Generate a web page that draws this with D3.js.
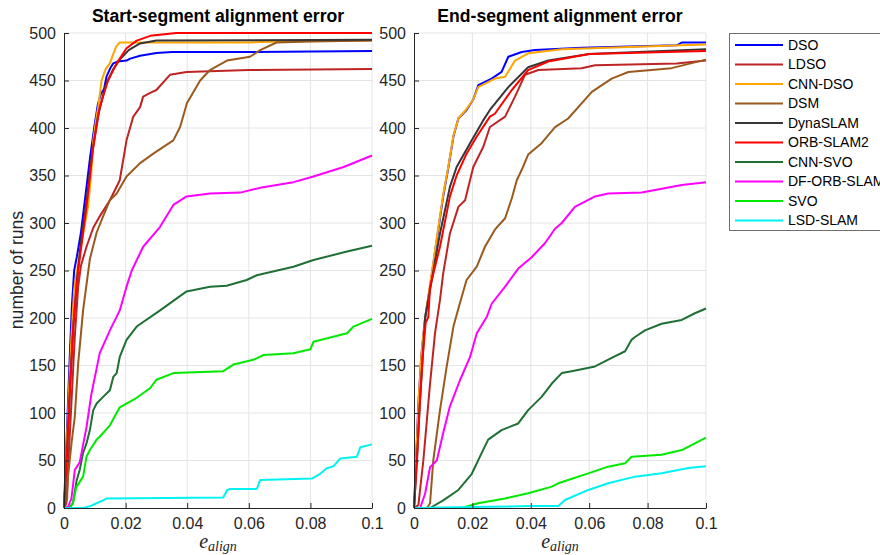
<!DOCTYPE html>
<html>
<head>
<meta charset="utf-8">
<script src="https://cdn.jsdelivr.net/npm/d3@7/dist/d3.min.js"></script>
<style>
  html, body { margin: 0; padding: 0; background: #fff; overflow: hidden; }
  svg { display: block; }
</style>
</head>
<body>
<svg id="chart" width="880" height="555"></svg>
<script>
// Methods in legend order and their line colours
const methods = ["DSO", "LDSO", "CNN-DSO", "DSM", "DynaSLAM", "ORB-SLAM2", "CNN-SVO", "DF-ORB-SLAM", "SVO", "LSD-SLAM"];
const colors  = ["#0000ff", "#be2424", "#ffa500", "#9a5a1e", "#363636", "#ff0000", "#1f7034", "#ff00ff", "#00ea00", "#00f2f2"];

const xTicks = [0, 0.02, 0.04, 0.06, 0.08, 0.1];
const xTickLabels = ["0", "0.02", "0.04", "0.06", "0.08", "0.1"];
const yTicks = [0, 50, 100, 150, 200, 250, 300, 350, 400, 450, 500];
const panelTitles = ["Start-segment alignment error", "End-segment alignment error"];

// Cumulative number of runs vs. alignment error: [e_align, runs]
// Start-segment
const startDSO = [[0,0],[0.0007,60],[0.0014,120],[0.002,170],[0.0026,215],[0.0033,250],[0.0042,265],[0.0055,290],[0.007,330],[0.0085,370],[0.0098,400],[0.011,425],[0.012,436],[0.013,441],[0.0138,454],[0.0152,464],[0.016,468],[0.0175,470],[0.0203,471],[0.0215,473],[0.0247,476],[0.03,479],[0.035,480],[0.06,480],[0.1,481]];
const startLDSO = [[0,0],[0.0008,5],[0.0016,60],[0.0024,110],[0.0035,180],[0.0046,233],[0.0055,255],[0.0073,275],[0.0095,295],[0.0116,307],[0.0149,324],[0.0181,345],[0.0203,387],[0.0225,412],[0.0247,422],[0.0257,433],[0.028,437],[0.030,440],[0.0344,456],[0.0398,459],[0.06,461],[0.1,462]];
const startCNNDSO = [[0,0],[0.0008,60],[0.0016,120],[0.0024,180],[0.0033,230],[0.0045,255],[0.006,285],[0.0078,317],[0.0088,350],[0.0095,387],[0.0105,410],[0.0111,422],[0.0122,450],[0.0135,462],[0.0149,468],[0.016,478],[0.017,486],[0.0181,490],[0.025,490],[0.05,490],[0.06,490],[0.07,491],[0.1,492]];
const startDSM = [[0,0],[0.001,10],[0.0013,33],[0.0025,70],[0.0035,96],[0.0046,152],[0.0062,208],[0.0075,240],[0.0084,262],[0.0106,290],[0.0127,307],[0.0149,324],[0.0171,331],[0.0203,349],[0.0247,363],[0.029,373],[0.0355,387],[0.0377,401],[0.0399,426],[0.0442,450],[0.0474,461],[0.0529,471],[0.0604,475],[0.0637,482],[0.069,490],[0.08,491],[0.1,492]];
const startDynaSLAM = [[0,0],[0.001,60],[0.002,130],[0.003,190],[0.0042,240],[0.0055,280],[0.007,315],[0.009,370],[0.011,412],[0.0135,445],[0.016,462],[0.0181,472],[0.021,482],[0.0247,489],[0.03,492],[0.1,493]];
const startORBSLAM2 = [[0,0],[0.001,60],[0.002,130],[0.003,190],[0.004,230],[0.0046,250],[0.006,285],[0.0073,317],[0.0095,380],[0.0116,422],[0.0143,450],[0.0171,468],[0.0203,484],[0.0236,492],[0.028,497],[0.0364,500],[0.1,500]];
const startCNNSVO = [[0,0],[0.0019,1],[0.0029,5],[0.0041,29],[0.0051,40],[0.0062,58],[0.0073,68],[0.0084,82],[0.0095,103],[0.0106,110],[0.0127,117],[0.0149,124],[0.016,138],[0.0171,142],[0.0181,159],[0.0203,177],[0.0236,191],[0.0312,208],[0.0398,228],[0.0474,233],[0.0528,234],[0.0593,240],[0.0626,245],[0.0745,254],[0.081,261],[0.0919,270],[0.1,276]];
const startDFORBSLAM = [[0,0],[0.0013,1],[0.0024,10],[0.003,26],[0.0035,40],[0.0051,48],[0.0073,85],[0.0089,120],[0.0116,163],[0.0149,187],[0.0181,208],[0.0203,233],[0.022,250],[0.0257,275],[0.0312,296],[0.0355,319],[0.0398,328],[0.0474,331],[0.0572,332],[0.0637,337],[0.0745,343],[0.081,349],[0.0908,359],[0.1,371]];
const startSVO = [[0,0],[0.0019,0],[0.0029,5],[0.004,22],[0.0062,33],[0.0073,54],[0.0084,61],[0.0106,72],[0.0116,75],[0.0149,87],[0.0181,106],[0.0236,116],[0.0279,126],[0.03,135],[0.0355,142],[0.0517,144],[0.055,151],[0.0615,156],[0.0647,161],[0.0745,163],[0.08,167],[0.081,175],[0.0919,184],[0.094,191],[0.1,199]];
const startLSDSLAM = [[0,0],[0.0062,0],[0.0085,2],[0.0106,5],[0.0127,8],[0.0138,10],[0.0517,11],[0.053,19],[0.054,20],[0.0626,20],[0.0637,29.5],[0.0805,31],[0.0832,36],[0.0854,42],[0.0875,44],[0.0897,52],[0.0951,54],[0.0962,64],[0.1,67]];

// End-segment
const endDSO = [[0,0],[0.0007,50],[0.0015,110],[0.0025,160],[0.0038,200],[0.0043,210],[0.0055,233],[0.0078,282],[0.01,328],[0.0118,359],[0.0135,391],[0.0152,410],[0.018,419],[0.0203,430],[0.022,445],[0.0266,452],[0.030,459],[0.0323,475],[0.0369,480],[0.0414,482],[0.0574,484.5],[0.09,487],[0.0917,490],[0.1,490]];
const endLDSO = [[0,0],[0.0015,3],[0.0032,50],[0.0055,131],[0.0072,184],[0.0089,219],[0.01,247],[0.0123,289],[0.0152,317],[0.0175,324],[0.0203,359],[0.0237,380],[0.026,401],[0.0312,412],[0.0346,433],[0.038,456],[0.0426,461],[0.0574,463],[0.062,466],[0.09,468],[0.1,471]];
const endCNNDSO = [[0,0],[0.0008,55],[0.0016,115],[0.0026,165],[0.0038,200],[0.0055,235],[0.0078,284],[0.01,330],[0.0118,360],[0.0135,392],[0.0152,410],[0.018,420],[0.0203,430],[0.022,443],[0.0277,452],[0.0312,454],[0.0346,471],[0.0391,478.6],[0.0506,482.8],[0.0917,487],[0.1,488]];
const endDSM = [[0,0],[0.0045,0],[0.0055,5],[0.0066,50],[0.0089,103],[0.0112,149],[0.0135,191],[0.0152,210],[0.018,240],[0.0215,254],[0.0243,275],[0.0277,293],[0.0312,305],[0.0335,326],[0.0352,345],[0.0369,356],[0.0391,372],[0.0437,384],[0.0483,401],[0.0528,410],[0.0609,438],[0.0677,452],[0.0734,459],[0.0882,463],[0.1,472]];
const endDynaSLAM = [[0,0],[0.001,50],[0.002,110],[0.003,160],[0.0038,200],[0.0049,219],[0.0089,289],[0.0123,338],[0.0146,359],[0.0192,384],[0.0237,408],[0.026,419],[0.0323,443],[0.0391,464],[0.046,471],[0.06,478],[0.1,483]];
const endORBSLAM2 = [[0,0],[0.001,50],[0.002,110],[0.003,160],[0.004,195],[0.0049,201],[0.0055,233],[0.0089,275],[0.0123,328],[0.0146,350],[0.018,373],[0.0215,391],[0.026,412],[0.0277,415],[0.0335,440],[0.0391,461],[0.046,470],[0.06,478],[0.1,481]];
const endCNNSVO = [[0,0],[0.0055,0],[0.01,8],[0.0152,19],[0.0198,36],[0.0232,58],[0.0254,72],[0.03,82],[0.0357,89],[0.0391,103],[0.0437,117],[0.0472,131],[0.0506,142],[0.054,144],[0.062,149],[0.0677,158],[0.0723,165],[0.0745,177],[0.0757,180],[0.0791,187],[0.0848,194],[0.0917,198],[0.0962,205],[0.1,210]];
const endDFORBSLAM = [[0,0],[0.0021,0],[0.0038,15],[0.0055,43],[0.0078,50],[0.01,79],[0.0123,107],[0.0158,135],[0.0192,159],[0.0215,184],[0.0249,201],[0.0266,215],[0.0312,233],[0.0357,252],[0.0403,264],[0.0449,279],[0.0483,294],[0.0506,300],[0.0551,317],[0.062,328],[0.0665,331],[0.078,332],[0.0917,340],[0.1,343]];
const endSVO = [[0,0],[0.0163,0],[0.022,5],[0.0312,10],[0.0391,15.5],[0.0472,22.5],[0.0494,26],[0.0528,29.5],[0.0597,36.5],[0.0665,43.5],[0.0723,47],[0.0745,54],[0.0848,56],[0.0917,61],[0.0962,68],[0.1,74]];
const endLSDSLAM = [[0,0],[0.02,1],[0.04,2],[0.0494,2],[0.0505,5],[0.0517,8.4],[0.0597,19],[0.0665,26],[0.0757,33],[0.0848,36.5],[0.094,42],[0.1,44]];

const startSeries = [startDSO, startLDSO, startCNNDSO, startDSM, startDynaSLAM, startORBSLAM2, startCNNSVO, startDFORBSLAM, startSVO, startLSDSLAM];
const endSeries = [endDSO, endLDSO, endCNNDSO, endDSM, endDynaSLAM, endORBSLAM2, endCNNSVO, endDFORBSLAM, endSVO, endLSDSLAM];

const svg = d3.select("#chart");
const axisColor = "#262626";
const gridColor = "#e4e4e4";
const font = "'Liberation Sans', Arial, Helvetica, sans-serif";

const panels = [
  { title: panelTitles[0], series: startSeries, left: 64, right: 372 },
  { title: panelTitles[1], series: endSeries, left: 414, right: 706 }
];
const plotTop = 33, plotBottom = 508;

panels.forEach(p => {
  const x = d3.scaleLinear().domain([0, 0.1]).range([p.left, p.right]);
  const y = d3.scaleLinear().domain([0, 500]).range([plotBottom, plotTop]);
  const g = svg.append("g");

  // grid
  g.append("g").selectAll("line.v").data(xTicks.slice(1)).join("line")
    .attr("x1", d => x(d)).attr("x2", d => x(d))
    .attr("y1", plotBottom).attr("y2", plotTop)
    .attr("stroke", gridColor).attr("stroke-width", 1);
  g.append("g").selectAll("line.h").data(yTicks.slice(1)).join("line")
    .attr("x1", p.left).attr("x2", p.right)
    .attr("y1", d => y(d)).attr("y2", d => y(d))
    .attr("stroke", gridColor).attr("stroke-width", 1);

  // curves
  const line = d3.line().x(d => x(d[0])).y(d => y(d[1]));
  g.append("g").selectAll("path").data(p.series).join("path")
    .attr("d", line)
    .attr("fill", "none")
    .attr("stroke", (d, i) => colors[i])
    .attr("stroke-width", 2)
    .attr("stroke-linejoin", "round");

  // axes with inward ticks
  const xAxis = d3.axisBottom(x).tickValues(xTicks)
    .tickFormat((d, i) => xTickLabels[i]).tickSizeInner(-5).tickSizeOuter(0).tickPadding(10);
  const yAxis = d3.axisLeft(y).tickValues(yTicks)
    .tickFormat(d3.format("d")).tickSizeInner(-5).tickSizeOuter(0).tickPadding(8);

  const gx = g.append("g").attr("transform", `translate(0,${plotBottom})`).call(xAxis);
  const gy = g.append("g").attr("transform", `translate(${p.left},0)`).call(yAxis);
  [gx, gy].forEach(a => {
    a.select(".domain").attr("stroke", axisColor).attr("stroke-width", 1);
    a.selectAll(".tick line").attr("stroke", axisColor);
    a.selectAll(".tick text").attr("fill", axisColor)
      .style("font-family", font).style("font-size", "16px");
  });

  // title
  svg.append("text")
    .attr("x", (p.left + p.right) / 2).attr("y", 22)
    .attr("text-anchor", "middle")
    .style("font-family", font).style("font-size", "17.6px").style("font-weight", "bold")
    .attr("fill", "#000")
    .text(p.title);

  // x label: e_align
  const xl = svg.append("text")
    .attr("x", (p.left + p.right) / 2).attr("y", 548)
    .attr("text-anchor", "middle")
    .style("font-family", "'Liberation Serif', 'Times New Roman', serif")
    .style("font-style", "italic")
    .attr("fill", axisColor);
  xl.append("tspan").style("font-size", "20px").text("e");
  xl.append("tspan").style("font-size", "14px").attr("dy", 3).text("align");
});

// y label
svg.append("text")
  .attr("transform", "translate(23,270) rotate(-90)")
  .attr("text-anchor", "middle")
  .style("font-family", font).style("font-size", "17.6px")
  .attr("fill", axisColor)
  .text("number of runs");

// legend
const lg = svg.append("g");
lg.append("rect")
  .attr("x", 729.5).attr("y", 33.5).attr("width", 200).attr("height", 197)
  .attr("fill", "#fff").attr("stroke", "#6e6e6e").attr("stroke-width", 1);
const rows = lg.selectAll("g.row").data(methods).join("g")
  .attr("transform", (d, i) => `translate(0,${45 + i * 19.5})`);
rows.append("line")
  .attr("x1", 735).attr("x2", 783).attr("y1", 0).attr("y2", 0)
  .attr("stroke", (d, i) => colors[i]).attr("stroke-width", 2);
rows.append("text")
  .attr("x", 788).attr("y", 0).attr("dy", "0.35em")
  .style("font-family", font).style("font-size", "14px")
  .attr("fill", "#000")
  .text(d => d);
</script>
</body>
</html>
